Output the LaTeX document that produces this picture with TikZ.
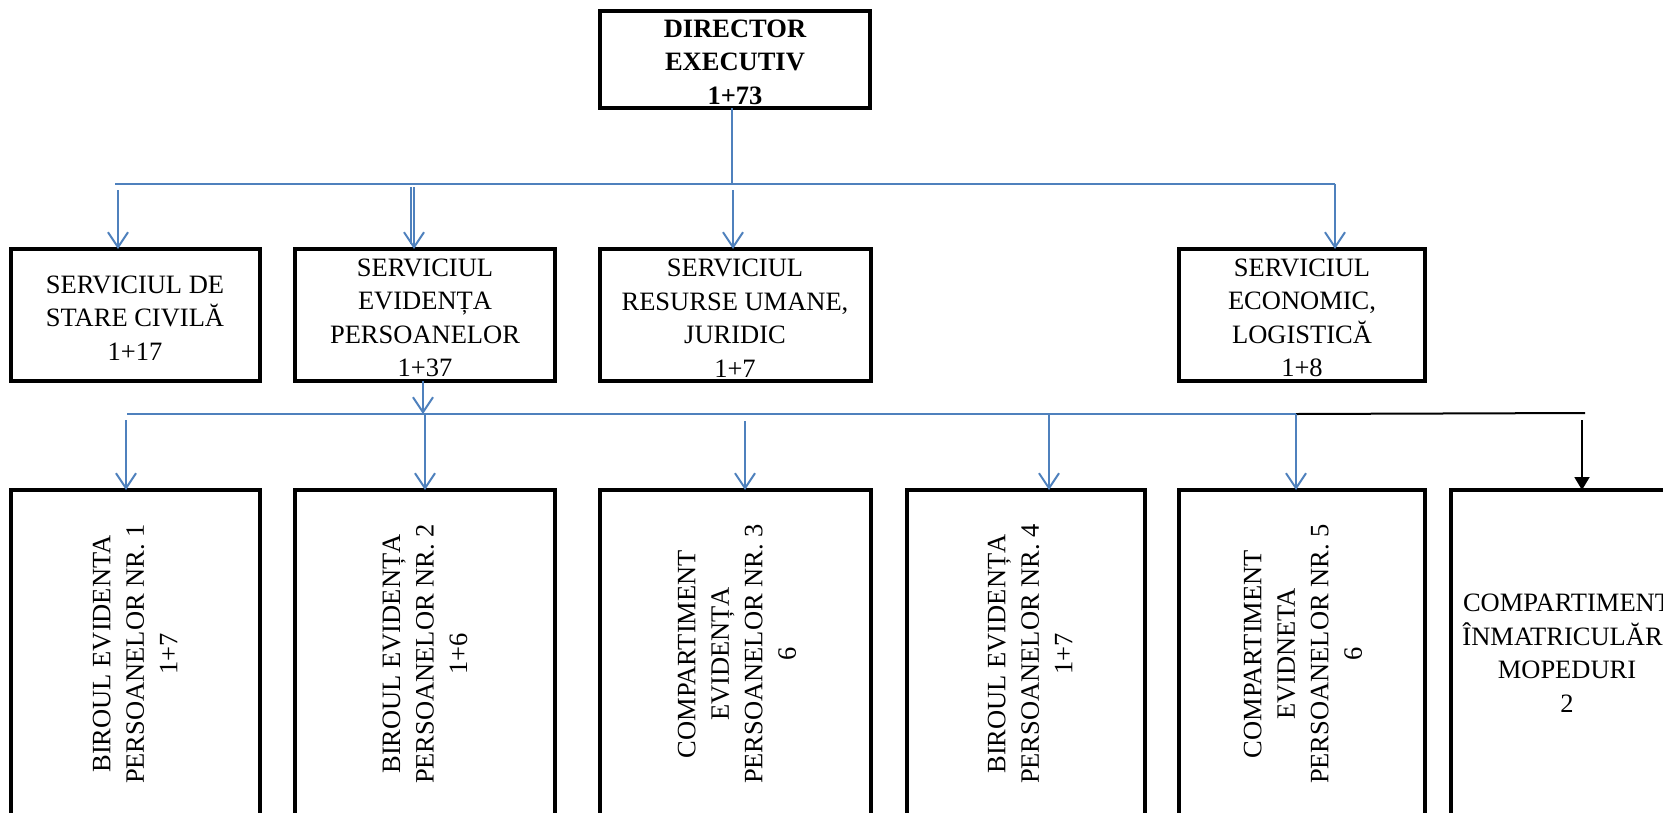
\documentclass[tikz,border=0pt]{standalone}
\usepackage{fontspec}
\setmainfont{Liberation Serif}
\usetikzlibrary{arrows.meta,calc}
\definecolor{orgblue}{HTML}{4F81BD}
\begin{document}
\begin{tikzpicture}[x=1pt,y=-1pt,
  box/.style={draw=black, line width=3.6pt, rectangle, inner sep=0pt, outer sep=0pt},
  txt/.style={align=center, inner sep=0pt, font=\fontsize{26.5}{33.5}\selectfont},
  btxt/.style={align=center, inner sep=0pt, font=\fontsize{26.5}{33.5}\selectfont\bfseries},
  conn/.style={draw=orgblue, line width=2pt},
  arr/.style={conn, -{Straight Barb[length=15pt,width=20pt]}},
  blackarr/.style={draw=black, line width=2pt, -{Triangle[length=13pt,width=15pt]}}
]
\useasboundingbox (0,0) rectangle (1663,812);
\clip (0,0) rectangle (1663,812);

% director
\node[box, minimum width=270pt, minimum height=97pt] (dir) at (735,59.5) {};
\node[btxt] (dirT) at (735,62) {DIRECTOR\\EXECUTIV\\1+73};

% level 2
\node[box, minimum width=249pt, minimum height=132pt] (sc)  at (135.5,315) {};
\node[box, minimum width=260pt, minimum height=132pt] (sep) at (425,315) {};
\node[box, minimum width=271pt, minimum height=132pt] (sru) at (735.5,315) {};
\node[box, minimum width=246pt, minimum height=132pt] (se)  at (1302,315) {};
\node[txt] (scT)  at (135,318) {SERVICIUL DE\\STARE CIVILĂ\\1+17};
\node[txt] (sepT) at (425,318) {SERVICIUL\\EVIDENȚA\\PERSOANELOR\\1+37};
\node[txt] (sruT) at (735,318) {SERVICIUL\\RESURSE UMANE,\\JURIDIC\\1+7};
\node[txt] (seT)  at (1302,318) {SERVICIUL\\ECONOMIC,\\LOGISTICĂ\\1+8};

% level 3
\node[box, minimum width=249pt, minimum height=370pt] (b1) at (135.5,675) {};
\node[box, minimum width=260pt, minimum height=370pt] (b2) at (425,675) {};
\node[box, minimum width=271pt, minimum height=370pt] (b3) at (735.5,675) {};
\node[box, minimum width=238pt, minimum height=370pt] (b4) at (1026,675) {};
\node[box, minimum width=246pt, minimum height=370pt] (b5) at (1302,675) {};
\node[box, minimum width=232pt, minimum height=370pt] (b6) at (1567,675) {};
\node[txt, rotate=90] (b1T) at (135,654) {BIROUL EVIDENTA\\PERSOANELOR NR. 1\\1+7};
\node[txt, rotate=90] (b2T) at (425,654) {BIROUL EVIDENȚA\\PERSOANELOR NR. 2\\1+6};
\node[txt, rotate=90] (b3T) at (737,654) {COMPARTIMENT\\EVIDENȚA\\PERSOANELOR NR. 3\\6};
\node[txt, rotate=90] (b4T) at (1030,654) {BIROUL EVIDENȚA\\PERSOANELOR NR. 4\\1+7};
\node[txt, rotate=90] (b5T) at (1303,654) {COMPARTIMENT\\EVIDNETA\\PERSOANELOR NR. 5\\6};
\node[txt] (b6T) at (1567,653) {COMPARTIMENT\\ÎNMATRICULĂRI\\MOPEDURI\\2};

% connectors level 1
\coordinate (j0) at (732,183.5);
\coordinate (bus1L) at (115,183.5);
\coordinate (bus1R) at (1335,183.5);
\draw[conn] (dir.south -| j0) -- (j0);
\draw[conn] (bus1L) -- (bus1R);
\coordinate (a1) at (118,190);
\coordinate (a2) at (414,187);
\coordinate (a2b) at (410.5,187);
\coordinate (a3) at (733,190);
\draw[arr] (a1) -- (a1 |- sc.north);
\draw[arr] (a2) -- (a2 |- sep.north);
\draw[conn, shorten >=5pt] (a2b) -- (a2b |- sep.north);
\draw[arr] (a3) -- (a3 |- sru.north);
\draw[arr] (bus1R) -- (bus1R |- se.north);

% connectors level 2
\coordinate (k0) at (423,414);
\coordinate (bus2L) at (127,414);
\coordinate (bus2M) at (1296,414);
\coordinate (bus2R) at (1585,413);
\draw[arr] (sep.south -| k0) -- (k0);
\draw[conn] (bus2L) -- (bus2M);
\draw[draw=black, line width=2pt] (bus2M) -- (bus2R);
\coordinate (c1) at (126,420);
\coordinate (c2) at (425,414);
\coordinate (c3) at (745,421);
\coordinate (c4) at (1049,414);
\coordinate (c6) at (1582,420);
\draw[arr] (c1) -- (c1 |- b1.north);
\draw[arr] (c2) -- (c2 |- b2.north);
\draw[arr] (c3) -- (c3 |- b3.north);
\draw[arr] (c4) -- (c4 |- b4.north);
\draw[arr] (bus2M) -- (bus2M |- b5.north);
\draw[blackarr] (c6) -- (c6 |- b6.north);
\end{tikzpicture}
\end{document}
